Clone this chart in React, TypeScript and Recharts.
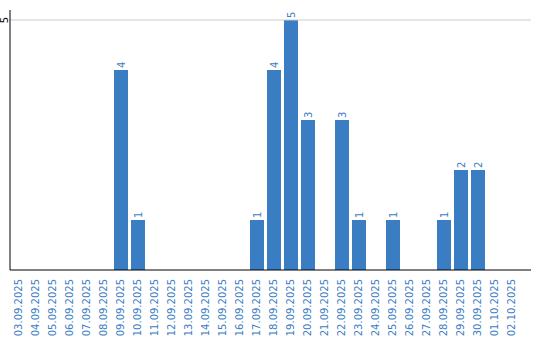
import { BarChart, Bar, XAxis, YAxis, ReferenceLine, LabelList } from 'recharts'

const dates = [
  '03.09.2025', '04.09.2025', '05.09.2025', '06.09.2025', '07.09.2025', '08.09.2025',
  '09.09.2025', '10.09.2025', '11.09.2025', '12.09.2025', '13.09.2025', '14.09.2025',
  '15.09.2025', '16.09.2025', '17.09.2025', '18.09.2025', '19.09.2025', '20.09.2025',
  '21.09.2025', '22.09.2025', '23.09.2025', '24.09.2025', '25.09.2025', '26.09.2025',
  '27.09.2025', '28.09.2025', '29.09.2025', '30.09.2025', '01.10.2025', '02.10.2025',
]
const counts = [
  0, 0, 0, 0, 0, 0,
  4, 1, 0, 0, 0, 0,
  0, 0, 1, 4, 5, 3,
  0, 3, 1, 0, 1, 0,
  0, 1, 2, 2, 0, 0,
]
const yTicks = [5]

const blue = '#3b7dc3'
const font = '"DejaVu Sans", Verdana, sans-serif'

const data = dates.map((d, i) => ({ date: d, count: counts[i] }))

function DateTick({ x, y, payload }: any) {
  return (
    <text
      x={0}
      y={0}
      transform={`translate(${x},${y + 1}) rotate(-90)`}
      textAnchor="end"
      dy="0.35em"
      fill={blue}
      fontSize={10}
      fontFamily={font}
    >
      {payload.value}
    </text>
  )
}

function CountTick({ y, payload }: any) {
  return (
    <text
      x={0}
      y={0}
      transform={`translate(4,${y}) rotate(-90)`}
      textAnchor="middle"
      dy="0.35em"
      fill="#000"
      fontSize={10}
      fontFamily={font}
    >
      {payload.value}
    </text>
  )
}

function ValueLabel({ x, y, width, value }: any) {
  if (!value) return null
  const cx = x + width / 2
  return (
    <text
      x={0}
      y={0}
      transform={`translate(${cx},${y - 2}) rotate(-90)`}
      textAnchor="start"
      dy="0.35em"
      fill={blue}
      fontSize={10}
      fontFamily={font}
    >
      {value}
    </text>
  )
}

export default function App() {
  return (
    <div style={{ position: 'absolute', left: 0, top: 0, background: '#fff' }}>
      <BarChart
        width={540}
        height={340}
        data={data}
        margin={{ top: 10, right: 9, bottom: 0, left: 0 }}
        barSize={14}
      >
        <ReferenceLine y={5} stroke="#cccccc" />
        <XAxis
          dataKey="date"
          interval={0}
          height={70}
          tick={<DateTick />}
          tickLine={false}
          axisLine={{ stroke: '#000' }}
          padding={{ left: 0, right: 11 }}
        />
        <YAxis
          width={10}
          domain={[0, 5.2]}
          ticks={yTicks}
          tick={<CountTick />}
          tickLine={false}
          axisLine={{ stroke: '#000' }}
        />
        <Bar dataKey="count" fill={blue} isAnimationActive={false}>
          <LabelList dataKey="count" content={<ValueLabel />} />
        </Bar>
      </BarChart>
    </div>
  )
}
